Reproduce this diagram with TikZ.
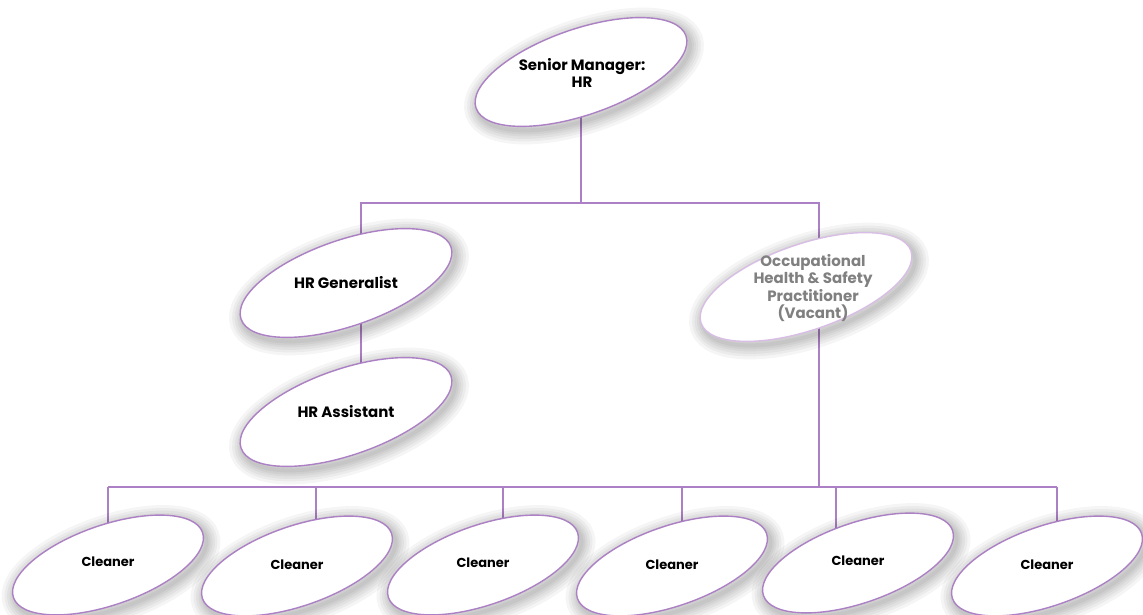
\documentclass[tikz,border=0pt]{standalone}
\usepackage{fontspec}
\setmainfont{Poppins}
\usetikzlibrary{shapes.geometric,calc}
\pgfdeclarelayer{background}
\pgfsetlayers{background,main}
\definecolor{linkpurple}{RGB}{172,128,196}
\definecolor{palepurple}{RGB}{216,190,228}
\definecolor{vacantgray}{RGB}{128,128,128}

% white face that greys slightly towards the rim
\pgfdeclareradialshading{softface}{\pgfpoint{0bp}{0bp}}{%
  color(0bp)=(white); color(36bp)=(white); color(50bp)=(black!8);
  color(100bp)=(black!8)}

\tikzset{
  halo/.style={preaction={draw=black, draw opacity=0.04, line width=#1,
      transform canvas={xshift=3pt, yshift=-4pt}}},
  softshadow/.style={halo=28pt, halo=22pt, halo=17pt, halo=12pt, halo=8pt, halo=4pt},
  post/.style={ellipse, draw=linkpurple, line width=1.4pt, shading=softface,
    rotate=19, inner sep=0pt, minimum width=222pt, minimum height=86pt,
    softshadow},
  cleanerpost/.style={post, minimum width=200pt, minimum height=80pt},
  vacantpost/.style={post, draw=palepurple},
  title/.style={font=\bfseries\fontsize{15}{17.5}\selectfont, align=center, text=black},
  vacanttitle/.style={title, text=vacantgray},
  cleanertitle/.style={font=\bfseries\fontsize{13}{15}\selectfont, text=black},
  link/.style={draw=linkpurple, line width=1.4pt}
}

\begin{document}
\begin{tikzpicture}[x=1pt, y=1pt]
  \useasboundingbox (0,0) rectangle (1143,-615);

  % positions of the bus lines
  \coordinate (upperbus) at (0,-203);
  \coordinate (lowerbus) at (0,-487);

  % management
  \node[post] (smE) at (581,-72) {};
  \node[title] (sm) at ($(smE.center)+(1,-1)$) {Senior Manager:\\HR};

  \node[post] (genE) at (346,-283) {};
  \node[title] (gen) at (genE.center) {HR Generalist};

  \node[post] (asstE) at (346,-412) {};
  \node[title] (asst) at (asstE.center) {HR Assistant};

  \node[vacantpost] (ohsE) at (806,-287) {};
  \node[vacanttitle] (ohs) at ($(ohsE.center)+(7,-1)$)
    {Occupational\\Health \& Safety\\Practitioner\\(Vacant)};

  % cleaning staff
  \node[cleanerpost] (c1E) at (108,-565) {};
  \node[cleanertitle] (c1) at ($(c1E.center)+(0,3)$) {Cleaner};
  \node[cleanerpost] (c2E) at (297,-566) {};
  \node[cleanertitle] (c2) at ($(c2E.center)+(0,1)$) {Cleaner};
  \node[cleanerpost] (c3E) at (483,-565) {};
  \node[cleanertitle] (c3) at ($(c3E.center)+(0,2)$) {Cleaner};
  \node[cleanerpost] (c4E) at (672,-566) {};
  \node[cleanertitle] (c4) at ($(c4E.center)+(0,1)$) {Cleaner};
  \node[cleanerpost] (c5E) at (858,-563) {};
  \node[cleanertitle] (c5) at ($(c5E.center)+(0,2)$) {Cleaner};
  \node[cleanerpost] (c6E) at (1047,-566) {};
  \node[cleanertitle] (c6) at ($(c6E.center)+(0,1)$) {Cleaner};

  % attachment points of the connectors
  \coordinate (genT) at ($(genE.center)+(15,0)$);
  \coordinate (ohsT) at ($(ohsE.center)+(13,0)$);
  \coordinate (c1T) at ($(c1E.center)+(0,0)$);
  \coordinate (c2T) at ($(c2E.center)+(19,0)$);
  \coordinate (c3T) at ($(c3E.center)+(20,0)$);
  \coordinate (c4T) at ($(c4E.center)+(10,0)$);
  \coordinate (c5T) at ($(c5E.center)+(-22,0)$);
  \coordinate (c6T) at ($(c6E.center)+(10,0)$);

  % white page and the reporting lines, all behind the ellipses
  \begin{pgfonlayer}{background}
    \fill[white] (0,0) rectangle (1143,-615);
    \draw[link] (smE.center) -- (smE.center |- upperbus);
    \draw[link] (genT) |- (upperbus -| ohsT) -- (ohsT);
    \draw[link] (genT) -- (genT |- asstE.center);
    \draw[link] (ohsT) -- (ohsT |- lowerbus);
    \draw[link] (c1T |- lowerbus) -- (c6T |- lowerbus);
    \foreach \c in {c1T,c2T,c3T,c4T,c5T,c6T}
      \draw[link] (\c |- lowerbus) -- (\c);
  \end{pgfonlayer}
\end{tikzpicture}
\end{document}
